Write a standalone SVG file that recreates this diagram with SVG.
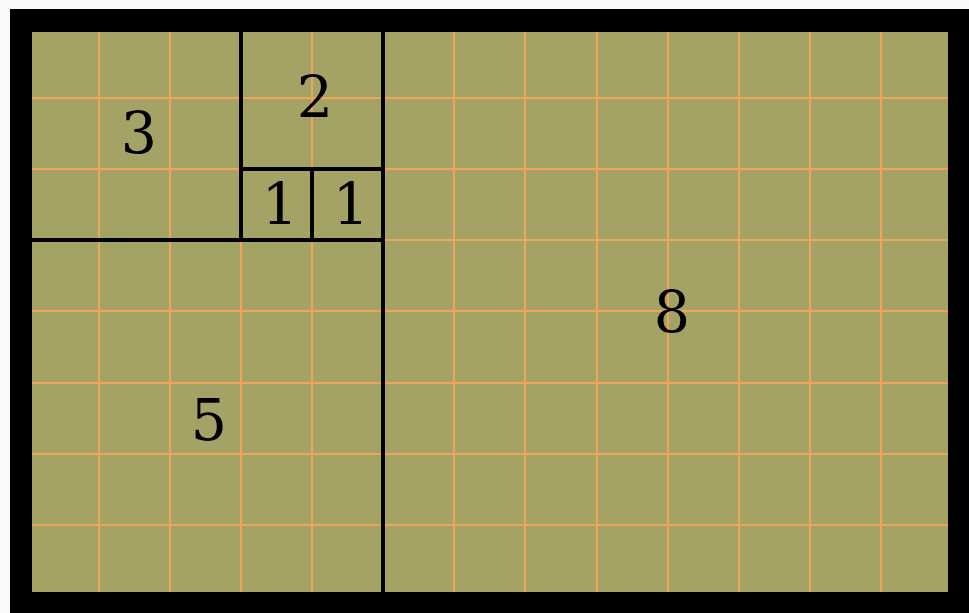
<svg xmlns="http://www.w3.org/2000/svg" width="969" height="613" viewBox="0 0 969 613">
<style>
.grid line{stroke:#f0a35a;stroke-width:2}
.sq{fill:none;stroke:#000;stroke-width:4}
.lbl{font-family:"DejaVu Serif",serif;font-size:57px;fill:#000;text-anchor:middle}
</style>
<rect x="0" y="0" width="969" height="613" fill="#fafafa"/>
<rect x="10" y="9" width="959" height="604" fill="#000"/>
<rect x="30" y="30" width="920" height="564" fill="#a4a365"/>
<g class="grid">
<line x1="99" y1="30" x2="99" y2="594"/>
<line x1="170" y1="30" x2="170" y2="594"/>
<line x1="241" y1="30" x2="241" y2="594"/>
<line x1="312" y1="30" x2="312" y2="594"/>
<line x1="383" y1="30" x2="383" y2="594"/>
<line x1="454" y1="30" x2="454" y2="594"/>
<line x1="525" y1="30" x2="525" y2="594"/>
<line x1="597" y1="30" x2="597" y2="594"/>
<line x1="668" y1="30" x2="668" y2="594"/>
<line x1="739" y1="30" x2="739" y2="594"/>
<line x1="810" y1="30" x2="810" y2="594"/>
<line x1="881" y1="30" x2="881" y2="594"/>
<line x1="30" y1="98" x2="950" y2="98"/>
<line x1="30" y1="169" x2="950" y2="169"/>
<line x1="30" y1="240" x2="950" y2="240"/>
<line x1="30" y1="311" x2="950" y2="311"/>
<line x1="30" y1="383" x2="950" y2="383"/>
<line x1="30" y1="454" x2="950" y2="454"/>
<line x1="30" y1="525" x2="950" y2="525"/>
</g>
<g id="sq3"><rect class="sq" x="30" y="30" width="211" height="210"/><text class="lbl" x="139" y="153">3</text></g>
<g id="sq2"><rect class="sq" x="241" y="30" width="142" height="139"/><text class="lbl" x="315" y="117">2</text></g>
<g id="sq1a"><rect class="sq" x="241" y="169" width="71" height="71"/><text class="lbl" x="280" y="224">1</text></g>
<g id="sq1b"><rect class="sq" x="312" y="169" width="71" height="71"/><text class="lbl" x="351" y="224">1</text></g>
<g id="sq5"><rect class="sq" x="30" y="240" width="353" height="354"/><text class="lbl" x="209" y="440">5</text></g>
<g id="sq8"><rect class="sq" x="383" y="30" width="567" height="564"/><text class="lbl" x="672" y="332">8</text></g>
<g id="connectors"></g>
</svg>
